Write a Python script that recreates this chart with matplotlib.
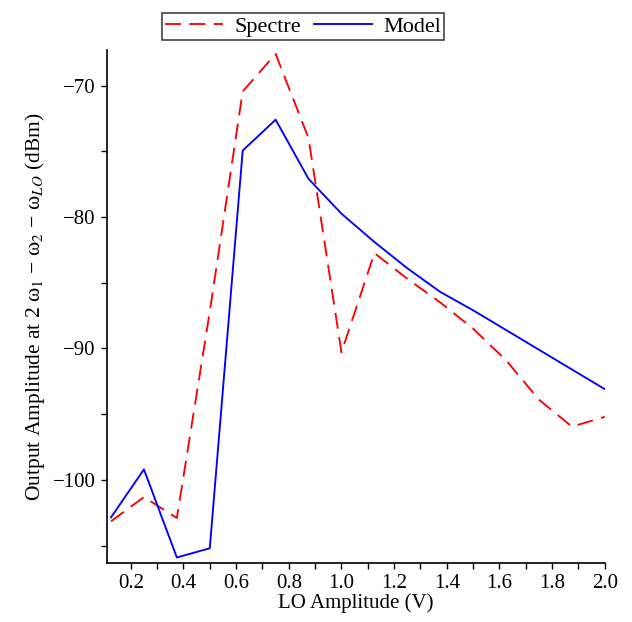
import matplotlib
matplotlib.use("Agg")
import matplotlib.pyplot as plt
from matplotlib.ticker import MultipleLocator, FormatStrFormatter

# --- data ---
lo_amp = [0.125, 0.25, 0.375, 0.5, 0.625, 0.75, 0.875, 1.0,
          1.125, 1.25, 1.375, 1.5, 1.625, 1.75, 1.875, 2.0]
spectre = [-103.15, -101.3, -102.9, -87.2, -70.45, -67.6, -74.0, -90.3,
           -82.75, -84.7, -86.5, -88.5, -90.9, -93.9, -95.95, -95.2]
model = [-102.85, -99.2, -105.9, -105.2, -74.95, -72.6, -77.1, -79.75,
         -81.9, -83.9, -85.7, -87.1, -88.6, -90.1, -91.6, -93.1]

plt.rcParams['font.family'] = ['Liberation Serif', 'DejaVu Serif']
plt.rcParams['mathtext.fontset'] = 'stix'

fig = plt.figure(figsize=(6.32, 6.22), dpi=100)
ax = fig.add_axes([0.169, 0.0953, 0.788, 0.8243])

ax.plot(lo_amp, spectre, color='red', lw=1.35, dashes=(8.5, 4.5), label='Spectre')
ax.plot(lo_amp, model, color='blue', lw=1.35, label='Model')

ax.set_xlim(0.109, 2.0)
ax.set_ylim(-106.3, -67.3)
ax.xaxis.set_major_locator(MultipleLocator(0.2))
ax.xaxis.set_minor_locator(MultipleLocator(0.1))
ax.yaxis.set_major_locator(MultipleLocator(10))
ax.yaxis.set_minor_locator(MultipleLocator(5))
ax.xaxis.set_major_formatter(FormatStrFormatter('%.1f'))

for s in ['top', 'right']:
    ax.spines[s].set_visible(False)
for s in ['left', 'bottom']:
    ax.spines[s].set_linewidth(1.2)

ax.tick_params(which='both', direction='out', length=4.5, width=1.0, labelsize=15)

ax.set_xlabel('LO Amplitude (V)', fontsize=15, labelpad=0)
ax.set_ylabel('Output Amplitude at 2 ω$_1$ − ω$_2$ − ω$_{LO}$ (dBm)',
              fontsize=15.5, labelpad=4)

leg = fig.legend(loc='upper center', bbox_to_anchor=(303 / 632, 1 - 2 / 622), ncol=2,
                 fontsize=16, frameon=True, fancybox=False, handlelength=2.6,
                 columnspacing=0.6, handletextpad=0.5, borderpad=0.15)
leg.get_frame().set_edgecolor('black')
leg.get_frame().set_linewidth(1.1)

fig.savefig('out.png', dpi=100)
